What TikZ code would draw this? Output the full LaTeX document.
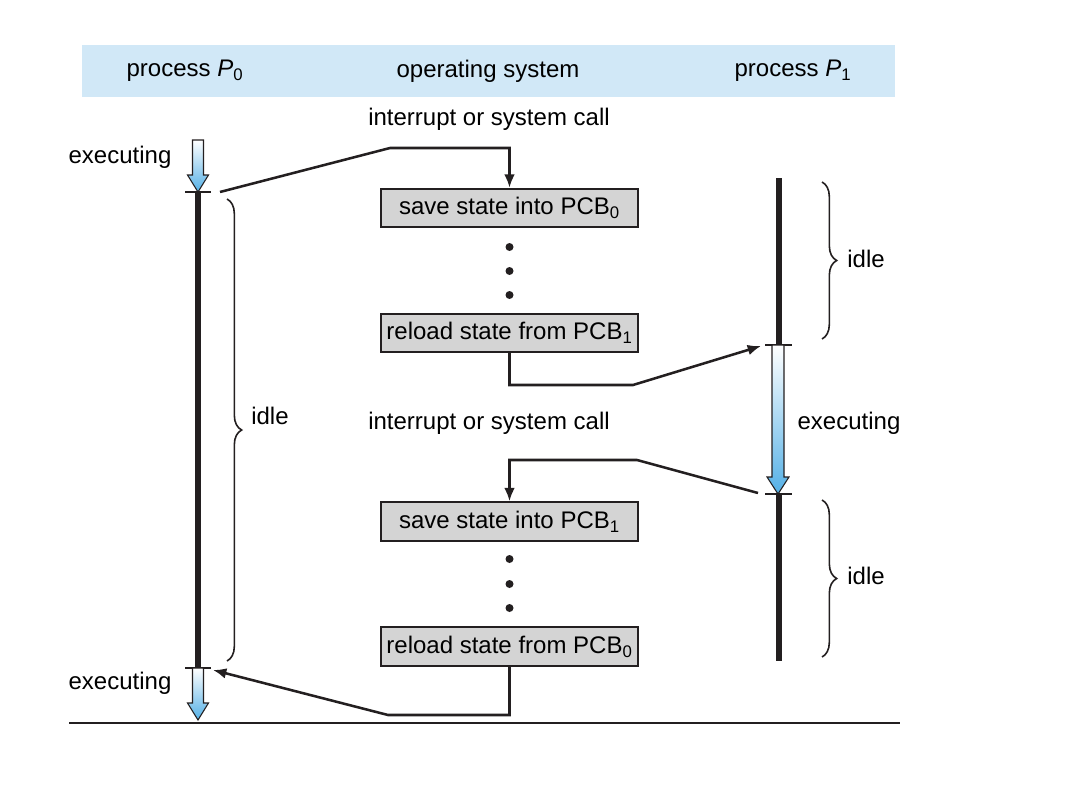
\documentclass[tikz,border=0pt]{standalone}
\usepackage{fontspec}
\setmainfont{Liberation Sans}
\usepackage{tikz}
\usetikzlibrary{arrows.meta,decorations.pathreplacing}

\definecolor{ink}{RGB}{35,31,32}
\definecolor{headerblue}{RGB}{209,232,247}
\definecolor{boxgray}{RGB}{212,212,212}
\definecolor{execblue}{RGB}{84,176,230}

% block arrow: x, top y, tip y, half shaft width
\newcommand{\execarrow}[4]{%
  \shadedraw[execshade] (#1-#4,#2) -- (#1+#4,#2) -- (#1+#4,#3-17) -- (#1+#4+5,#3-17) -- (#1,#3) -- (#1-#4-5,#3-17) -- (#1-#4,#3-17) -- cycle ;}

\begin{document}
\begin{tikzpicture}[x=0.75pt,y=0.75pt,yscale=-1,xscale=1,
  font=\fontsize{18}{22}\selectfont,
  osbox/.style={draw=ink, fill=boxgray, line width=1.3pt, minimum width=193pt, minimum height=29pt, inner sep=0pt},
  conn/.style={draw=ink, line width=1.9pt, -{Latex[length=10pt,width=8pt]}},
  timeline/.style={draw=ink, line width=4.5pt},
  tick/.style={draw=ink, line width=1pt},
  idlebrace/.style={draw=ink, line width=1.2pt, decorate, decoration={brace, amplitude=11pt}},
  execshade/.style={draw=ink, line width=0.8pt, top color=white, bottom color=execblue}]
\useasboundingbox (0,0) rectangle (1074,792);

%Shape: Header band
\fill [headerblue] (82,45) rectangle (895,97) ;
% Text Node
\node (hp0) at (185,71) {process \textit{P}\textsubscript{0}};
% Text Node
\node (hos) at (488,71) {operating system};
% Text Node
\node (hp1) at (793,71) {process \textit{P}\textsubscript{1}};

%Shape: Timeline P0
\draw [timeline] (198,192) -- (198,668) ;
\draw [tick] (185,192) -- (211,192) (185,668) -- (211,668) ;
\execarrow{198}{140}{192}{5.5}
\execarrow{198}{668}{720}{5.5}
%Shape: Timeline P1
\draw [timeline] (779,178) -- (779,345) (779,494) -- (779,661) ;
\draw [tick] (765,345) -- (792,345) (765,494) -- (792,494) ;
\execarrow{778}{345}{494}{6}

%Shape: Braces
\draw [idlebrace] (227,199) -- (227,661) ;
\draw [idlebrace] (822,182) -- (822,339) ;
\draw [idlebrace] (822,500) -- (822,657) ;

% Text Node
\node (ex0) at (120,157) {executing};
% Text Node
\node (ex0b) at (120,683) {executing};
% Text Node
\node (ex1) at (849,423) {executing};
% Text Node
\node (idle0) at (270,416) {idle};
% Text Node
\node (idle1a) at (866,259) {idle};
% Text Node
\node (idle1b) at (866,576) {idle};
% Text Node
\node (irq0) at (489,119) {interrupt or system call};
% Text Node
\node (irq1) at (489,423) {interrupt or system call};

%Shape: OS boxes
\node [osbox] (save0) at (509.5,208) {save state into PCB\textsubscript{0}};
\node [osbox] (load1) at (509.5,333) {reload state from PCB\textsubscript{1}};
\node [osbox] (save1) at (509.5,521.5) {save state into PCB\textsubscript{1}};
\node [osbox] (load0) at (509.5,646.5) {reload state from PCB\textsubscript{0}};
\foreach \y in {247,271,295,559,584,608}
  \fill [ink] (509.5,\y) circle (3pt) ;

%Connectors
\coordinate (p0stop) at (220,192);
\coordinate (k1) at (390,148);
\coordinate (k2) at (633,385);
\coordinate (p1run) at (761,346);
\coordinate (p1stop) at (758,493);
\coordinate (k3) at (637,460);
\coordinate (k4) at (388,715);
\coordinate (p0run) at (213,670);
\draw [conn] (p0stop) -- (k1) -| (save0.north) ;
\draw [conn] (load1.south) |- (k2) -- (p1run) ;
\draw [conn] (p1stop) -- (k3) -| (save1.north) ;
\draw [conn] (load0.south) |- (k4) -- (p0run) ;

%Shape: Base line
\draw [ink, line width=1.6pt] (69,723) -- (900,723) ;

\end{tikzpicture}
\end{document}
